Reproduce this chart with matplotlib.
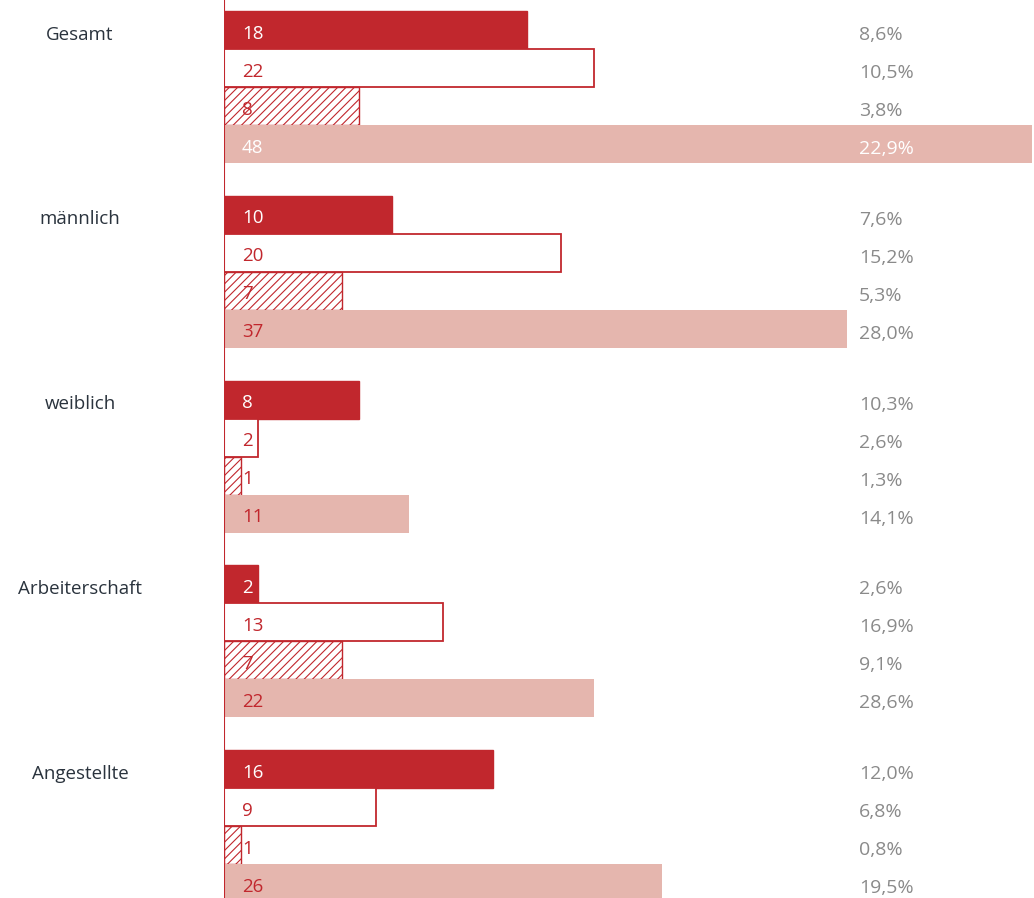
import matplotlib
matplotlib.use("Agg")
import matplotlib.pyplot as plt

plt.rcParams['font.family'] = ['Open Sans', 'DejaVu Sans']
plt.rcParams['hatch.linewidth'] = 0.8

groups = ["Gesamt", "männlich", "weiblich", "Arbeiterschaft", "Angestellte"]
solid = [18, 10, 8, 2, 16]
outline = [22, 20, 2, 13, 9]
hatched = [8, 7, 1, 7, 1]
total = [48, 37, 11, 22, 26]

solid_pct = ["8,6%", "7,6%", "10,3%", "2,6%", "12,0%"]
outline_pct = ["10,5%", "15,2%", "2,6%", "16,9%", "6,8%"]
hatched_pct = ["3,8%", "5,3%", "1,3%", "9,1%", "0,8%"]
total_pct = ["22,9%", "28,0%", "14,1%", "28,6%", "19,5%"]

RED = "#c1272d"
PINK = "#e5b6ae"
GREY = "#8a8a8a"
DARK = "#2a333d"

W, H = 1034, 898
fig = plt.figure(figsize=(W / 100, H / 100), dpi=100)
ax = fig.add_axes([224 / W, 0, 1 - 224 / W, 1])

bar_px = 38.0
stride = 184.75 / bar_px
top_off = 11 / bar_px
xmax = 48.1
px_per_unit = (W - 224) / xmax

ax.set_xlim(0, xmax)
ax.set_ylim((H - 11) / bar_px, -top_off)
ax.axis("off")

series = [
    (solid, solid_pct, dict(color=RED, edgecolor=RED)),
    (outline, outline_pct, dict(color="white", edgecolor=RED, linewidth=1.3)),
    (hatched, hatched_pct, dict(color="white", edgecolor=RED, linewidth=1.0, hatch="////")),
    (total, total_pct, dict(color=PINK, edgecolor=PINK, linewidth=0)),
]

pct_x = (859 - 224) / (W - 224)
for g, name in enumerate(groups):
    base = g * stride
    for k, (vals, pcts, style) in enumerate(series):
        yc = base + k + 0.5
        ax.barh(yc, vals[g], height=1.0, align="center", **style)
        if k == 0 or (k == 3 and g == 0):
            vcol, pcol = "white", ("white" if k == 3 else GREY)
        else:
            vcol, pcol = RED, GREY
        ax.text(18 / px_per_unit, yc + 8.5 / bar_px, str(vals[g]), color=vcol,
                fontsize=13.5, va="baseline", ha="left")
        ax.text(pct_x, yc + 10 / bar_px, pcts[g], color=pcol, fontsize=14,
                va="baseline", ha="left", transform=ax.get_yaxis_transform())
    ax.text(-(224 - 80) / px_per_unit, base + 0.5 + 9.5 / bar_px, name, color=DARK,
            fontsize=13.5, va="baseline", ha="center", clip_on=False)

ax.axvline(0, color=RED, linewidth=1.5, zorder=5)

fig.savefig("out.png", dpi=100)
